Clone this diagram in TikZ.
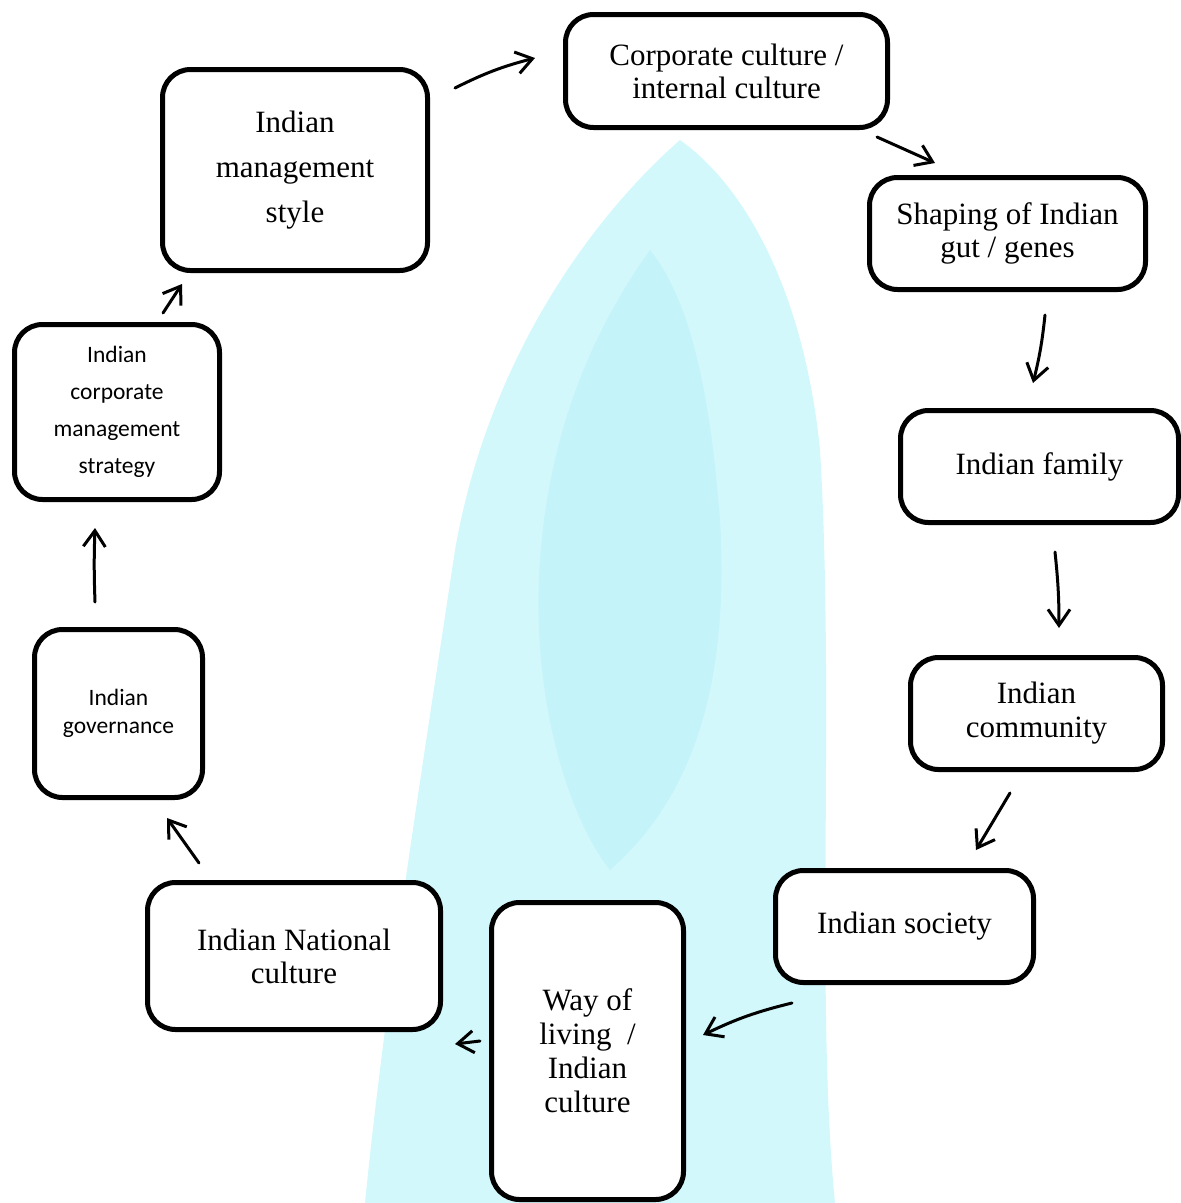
\documentclass[tikz,border=0pt]{standalone}
\usepackage{fontspec}
\setmainfont{Liberation Serif}
\newfontfamily\timesfont{Liberation Serif}
\newfontfamily\calfont{Carlito}
\usetikzlibrary{arrows.meta}
\definecolor{wmA}{RGB}{210,248,252}
\definecolor{wmB}{RGB}{196,243,250}
\tikzset{
  box/.style={draw=black, line width=5pt, rounded corners=28pt, fill=white, inner sep=0pt, align=center},
  arr/.style={line width=3pt, line cap=round, -{Straight Barb[length=16pt,width=22pt,line width=3pt]}}
}
\begin{document}
\begin{tikzpicture}[x=1pt,y=-1pt]
\useasboundingbox (0,0) rectangle (1181,1203);
% faint watermark
\fill[wmA] (680,140) .. controls (600,210) and (490,350) .. (455,550) .. controls (425,750) and (385,1000) .. (365,1203) -- (835,1203) .. controls (815,1000) and (835,700) .. (820,450) .. controls (805,300) and (750,190) .. (680,140) -- cycle;
\fill[wmB] (650,250) .. controls (600,320) and (550,420) .. (540,560) .. controls (530,700) and (570,820) .. (610,870) .. controls (690,800) and (730,690) .. (720,520) .. controls (710,390) and (690,300) .. (650,250) -- cycle;
% boxes
\node[box,minimum width=265pt,minimum height=201pt,font=\timesfont\fontsize{31}{45}\selectfont] (mgmt) at (295,170) {Indian\\management\\style};
\node[box,minimum width=322pt,minimum height=113pt,font=\timesfont\fontsize{31}{33}\selectfont] (corp) at (726.5,71) {Corporate culture /\\internal culture};
\node[box,minimum width=276pt,minimum height=112pt,font=\timesfont\fontsize{31}{33}\selectfont] (shape) at (1007.5,233.5) {Shaping of Indian\\gut / genes};
\node[box,minimum width=278pt,minimum height=112pt,font=\timesfont\fontsize{31}{35}\selectfont] (family) at (1039.5,466.5) {Indian family};
\node[box,minimum width=252pt,minimum height=112pt,font=\timesfont\fontsize{31}{34}\selectfont] (comm) at (1036.5,713.5) {Indian\\community};
\node[box,minimum width=258pt,minimum height=112pt,font=\timesfont\fontsize{31}{35}\selectfont] (soc) at (904.5,926.5) {Indian society};
\node[box,minimum width=192pt,minimum height=297pt,font=\timesfont\fontsize{31}{34}\selectfont] (way) at (587.5,1051) {Way of\\living\ \ /\\Indian\\culture};
\node[box,minimum width=293pt,minimum height=147pt,font=\timesfont\fontsize{31}{33}\selectfont] (nat) at (294,956) {Indian National\\culture};
\node[box,minimum width=168pt,minimum height=168pt,font=\calfont\fontsize{23.5}{28}\selectfont] (gov) at (118.5,713.5) {Indian\\governance};
\node[box,minimum width=205pt,minimum height=175pt,font=\calfont\fontsize{23.5}{37}\selectfont] (strat) at (117,412) {Indian\\corporate\\management\\strategy};
% arrow end points
\coordinate (a1s) at (455,88);   \coordinate (a1e) at (535,58);
\coordinate (a2s) at (877,137);  \coordinate (a2e) at (935,163);
\coordinate (a3s) at (1045,315); \coordinate (a3e) at (1033,383);
\coordinate (a4s) at (1055,552); \coordinate (a4e) at (1059,628);
\coordinate (a5s) at (1010,793); \coordinate (a5e) at (976,850);
\coordinate (a6s) at (792,1003); \coordinate (a6e) at (703,1035);
\coordinate (a7s) at (480,1041); \coordinate (a7e) at (455,1044);
\coordinate (a8s) at (199,863);  \coordinate (a8e) at (167,818);
\coordinate (a9s) at (95,602);   \coordinate (a9e) at (95,528);
\coordinate (a10s) at (163,313); \coordinate (a10e) at (182,284);
% arrows
\draw[arr] (a1s) to[bend left=6] (a1e);
\draw[arr] (a2s) -- (a2e);
\draw[arr] (a3s) to[bend left=4] (a3e);
\draw[arr] (a4s) to[bend left=3] (a4e);
\draw[arr] (a5s) -- (a5e);
\draw[arr] (a6s) to[bend right=6] (a6e);
\draw[arr] (a7s) -- (a7e);
\draw[arr] (a8s) -- (a8e);
\draw[arr] (a9s) to[bend left=2] (a9e);
\draw[arr] (a10s) -- (a10e);
\end{tikzpicture}
\end{document}
